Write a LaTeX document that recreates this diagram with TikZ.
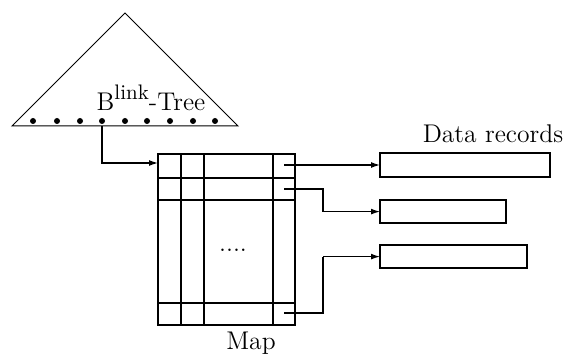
\documentclass[tikz,border=0pt]{standalone}
\usetikzlibrary{arrows.meta}

\begin{document}
\begin{tikzpicture}[x=0.5pt,y=-0.5pt,font=\fontsize{12.8}{15}\selectfont,
    rec/.style={draw,line width=0.9pt,minimum height=11.6pt,inner sep=0pt,outer sep=0pt,anchor=north west},
    ptr/.style={-{Latex[length=4.5pt,width=3pt]},line width=0.65pt},
    fat/.style={line width=1.4pt}]

    \useasboundingbox (0,0) rectangle (568,358);

    % the tree with its leaf entries
    \draw[line width=0.5pt] (12,126) -- (125,13) -- (238,126) -- cycle;
    \foreach \x in {33,57,80,102,125,147,170,193,215}
        \fill (\x,121) circle (1.5pt);
    \node[anchor=base,inner sep=0pt] (tree) at (151,111)
        {B\raisebox{5.5pt}{\fontsize{10.5}{12}\selectfont link}-Tree};
    \coordinate (leaf) at (102,126);

    % map table
    \draw[line width=1pt] (158,154) rectangle (295,325);
    \foreach \x in {181,204,273}
        \draw[line width=1pt] (\x,154) -- (\x,325);
    \foreach \y in {178,200,303}
        \draw[line width=1pt] (158,\y) -- (295,\y);
    \node (dots) at (233,250) {....};
    \node[anchor=base] (map) at (251,349) {Map};
    \coordinate (mapin) at (158,163);
    \coordinate (m1) at (284,165);
    \coordinate (m2) at (284,189);
    \coordinate (m3) at (284,313);

    % data records
    \node[rec,minimum width=85pt,minimum height=12pt] (rec1) at (380,153) {};
    \node[rec,minimum width=63pt] (rec2) at (380,200) {};
    \node[rec,minimum width=73.5pt] (rec3) at (380,245) {};
    \foreach \r in {rec1,rec2,rec3}
        \draw[line width=1.4pt] (\r.north east) -- (\r.south east);
    \node[anchor=base] (datalbl) at (493,143) {Data records};

    % pointers
    \draw[ptr] (leaf) |- (mapin);
    \draw[ptr] (m1) -- (rec1.west);
    \path (rec2.west) ++(-57,0) coordinate (k2);
    \path (rec3.west) ++(-57,0) coordinate (k3);
    \draw[fat] (m2) -| (k2);
    \draw[ptr] (k2) -- (rec2.west);
    \draw[fat] (m3) -| (k3);
    \draw[ptr] (k3) -- (rec3.west);

\end{tikzpicture}
\end{document}
